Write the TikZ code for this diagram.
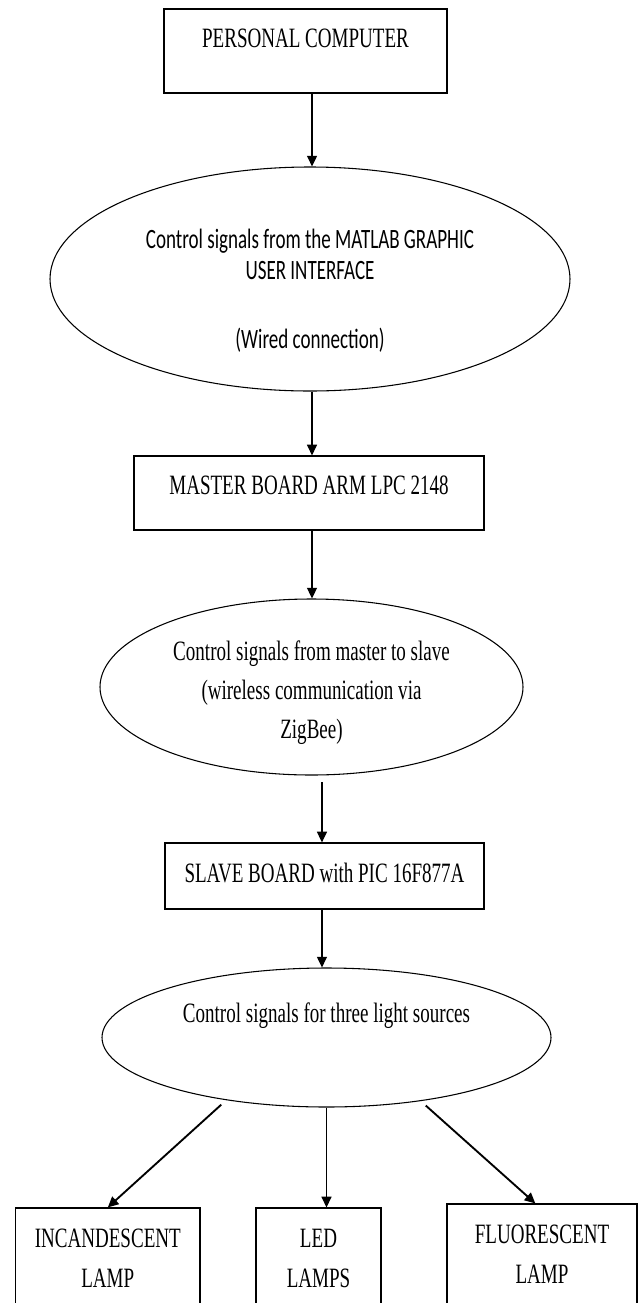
\documentclass[tikz,border=0pt]{standalone}
\usepackage{fontspec}
\setmainfont{Liberation Serif}
\newfontfamily\tnr[FakeStretch=0.68]{Liberation Serif}
\newfontfamily\calfont[FakeStretch=0.68]{Carlito}
\usetikzlibrary{arrows.meta,shapes.geometric}
\newcommand\lift[2]{\raisebox{#1}[0pt][0pt]{#2}}
\newcommand\pxu{0.75pt}
\begin{document}
\begin{tikzpicture}[x=0.75pt,y=-0.75pt,
  box/.style={draw, line width=0.9pt, rectangle, inner sep=0pt,
    font=\tnr\fontsize{21pt}{29.25pt}\selectfont},
  lampbox/.style={box, minimum height=120*\pxu,
    font=\tnr\fontsize{21pt}{30pt}\selectfont},
  oval/.style={draw, line width=0.8pt, ellipse, inner sep=0pt,
    font=\tnr\fontsize{21pt}{29.25pt}\selectfont},
  arr/.style={-{Triangle[length=8pt,width=7.5pt]}, line width=0.9pt},
  diag/.style={arr, line width=1.4pt}]
\useasboundingbox (0,0) rectangle (640,1303);

\node[box, minimum width=283*\pxu, minimum height=84*\pxu] (pc) at (305.5,51)
  {\lift{3pt}{PERSONAL COMPUTER}};

\node[oval, minimum width=520*\pxu, minimum height=224*\pxu,
  font=\calfont\fontsize{21pt}{23.25pt}\selectfont] (e1) at (310,279)
  {\lift{23.25pt}{\begin{tabular}[t]{@{}c@{}}Control signals from the MATLAB GRAPHIC\\ USER INTERFACE\\[28.5pt] (Wired connection)\end{tabular}}};

\node[box, minimum width=350*\pxu, minimum height=74*\pxu] (master) at (309,493)
  {\lift{-0.75pt}{MASTER BOARD ARM LPC 2148}};

\node[oval, minimum width=423*\pxu, minimum height=176*\pxu] (e2) at (311.5,687)
  {\lift{20.25pt}{\begin{tabular}[t]{@{}c@{}}Control signals from master to slave\\ (wireless communication via\\ ZigBee)\end{tabular}}};

\node[box, minimum width=319*\pxu, minimum height=66*\pxu] (slave) at (324.5,876)
  {\lift{-4.5pt}{SLAVE BOARD with PIC 16F877A}};

\node[oval, minimum width=449*\pxu, minimum height=139*\pxu] (e3) at (326.5,1037.5)
  {\lift{10.9pt}{Control signals for three light sources}};

\node[lampbox, minimum width=184.4*\pxu] (inc) at (107.8,1268)
  {\lift{15.75pt}{\begin{tabular}[t]{@{}c@{}}INCANDESCENT\\ LAMP\end{tabular}}};
\node[lampbox, minimum width=125*\pxu] (led) at (318.5,1268)
  {\lift{15.75pt}{\begin{tabular}[t]{@{}c@{}}LED\\ LAMPS\end{tabular}}};
\node[lampbox, minimum width=190*\pxu] (flu) at (542,1264)
  {\lift{15.75pt}{\begin{tabular}[t]{@{}c@{}}FLUORESCENT\\ LAMP\end{tabular}}};

\coordinate (a1) at ([xshift=4.9pt]pc.south);
\coordinate (a2) at ([xshift=1.5pt]e1.south);
\coordinate (a3) at ([xshift=2.25pt]master.south);
\coordinate (a4) at ([xshift=-1.9pt]slave.north);
\coordinate (a5) at ([xshift=-1.9pt]slave.south);
\coordinate (a6) at ([xshift=-5pt]flu.north);

\draw[arr] (a1) -- (a1 |- e1.north);
\draw[arr] (a2) -- (a2 |- master.north);
\draw[arr] (a3) -- (a3 |- e2.north);
\draw[arr, shorten <=5pt] (a4 |- e2.south) -- (a4);
\draw[arr] (a5) -- (a5 |- e3.north);
\draw[diag, shorten <=5pt] (e3.212) -- (inc.north);
\draw[arr] (e3.south) -- (e3.south |- led.north);
\draw[diag, shorten <=5pt] (e3.-34) -- (a6);
\end{tikzpicture}
\end{document}
